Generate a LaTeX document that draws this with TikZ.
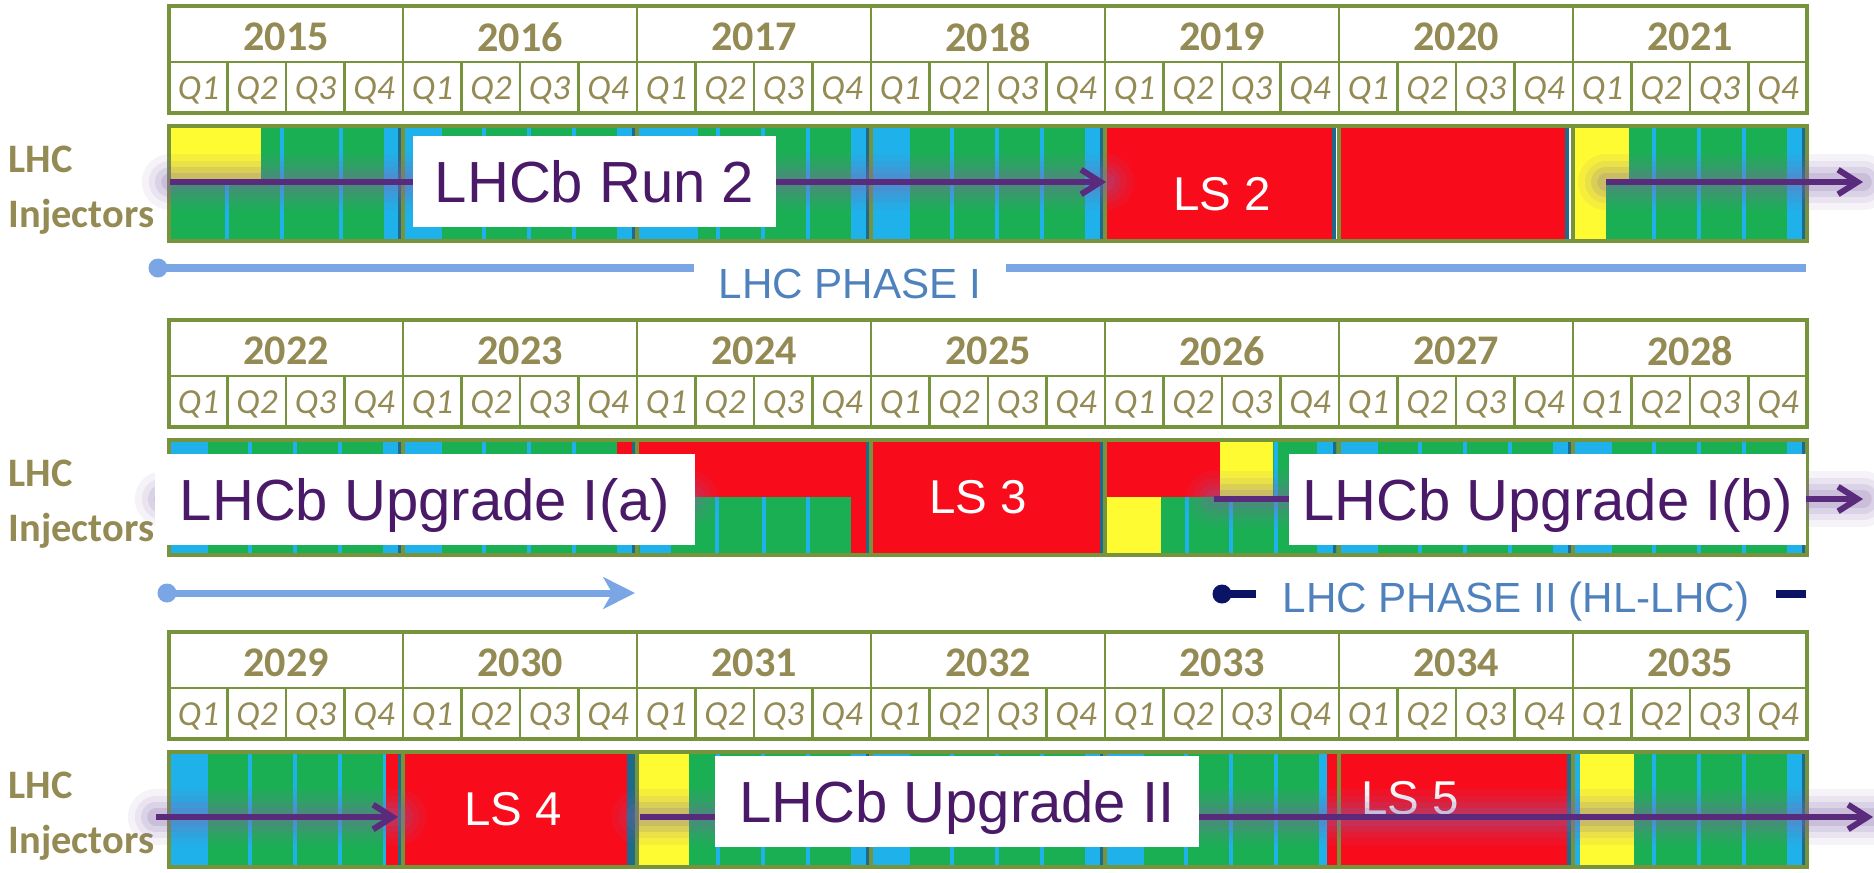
\documentclass[tikz,border=0pt]{standalone}
\usepackage{fontspec}
\setmainfont{Liberation Sans}
\newfontfamily\cellfont{Carlito}
\usetikzlibrary{arrows.meta}

\definecolor{rungreen}{HTML}{1BAF54}
\definecolor{stopblue}{HTML}{1FB1E9}
\definecolor{lsred}{HTML}{F80C1C}
\definecolor{beamyellow}{HTML}{FFFB33}
\definecolor{tealline}{HTML}{1D6A8A}
\definecolor{gridolive}{HTML}{77933C}
\definecolor{yeartext}{HTML}{948A54}
\definecolor{upgpurple}{HTML}{4A1A68}
\definecolor{arrpurple}{HTML}{5A2A7C}
\definecolor{glowpurple}{HTML}{8466AE}
\definecolor{phasetext}{HTML}{4F81BD}
\definecolor{phaseline}{HTML}{7BA6E6}
\definecolor{phasenavy}{HTML}{0B1464}

\tikzset{
  run/.style={fill=rungreen},
  techstop/.style={fill=stopblue},
  shutdown/.style={fill=lsred},
  commis/.style={fill=beamyellow},
  yearend/.style={fill=tealline},
  cellbox/.style={draw=gridolive, line width=0.8pt, fill=white},
  barframe/.style={draw=gridolive, line width=1pt},
  yearlbl/.style={text=yeartext, font=\cellfont\bfseries\fontsize{12}{14}\selectfont, inner sep=0},
  qlbl/.style={text=yeartext, font=\cellfont\itshape\fontsize{10}{12}\selectfont, inner sep=0},
  sidelbl/.style={text=yeartext, font=\cellfont\bfseries\fontsize{11.5}{14}\selectfont, anchor=base west, inner sep=0},
  lslbl/.style={text=white, font=\fontsize{13.5}{16}\selectfont, inner sep=0},
  upglbl/.style={fill=white, text=upgpurple, font=\fontsize{16.5}{20}\selectfont,
      text height=12pt, text depth=0pt, minimum height=0.91cm, inner sep=0},
  phasetxt/.style={fill=white, text=phasetext, font=\fontsize{12}{14}\selectfont,
      text height=8.6pt, text depth=0pt, minimum height=0.6cm, inner sep=0},
  phasedot/.style={circle, minimum size=0.19cm, inner sep=0},
  glow/.style={
      preaction={draw=glowpurple, draw opacity=.08, line width=16pt, line cap=round, arrows=-},
      preaction={draw=glowpurple, draw opacity=.1, line width=12pt, line cap=round, arrows=-},
      preaction={draw=glowpurple, draw opacity=.14, line width=8.5pt, line cap=round, arrows=-},
      preaction={draw=glowpurple, draw opacity=.18, line width=5pt, line cap=round, arrows=-}},
  runarrow/.style={glow, draw=arrpurple, line width=1.7pt, -{Straight Barb[length=5.5pt,width=7pt]}},
  phaseone/.style={draw=phaseline, line width=2pt},
  phasetwo/.style={draw=phasenavy, line width=2.2pt},
}

% one row of the calendar: #1 = top of the row, #2 = first year
\newcommand{\yeartable}[2]{%
  \foreach \i in {0,...,6} {
    \pgfmathtruncatemacro{\yr}{#2+\i}
    \draw[cellbox] ({169+234*\i},#1) rectangle ({169+234*(\i+1)},{#1+56});
    \node[yearlbl] (y\yr) at ({286+234*\i},{#1+31}) {\yr};
    \foreach \q in {1,...,4} {
      \draw[cellbox] ({169+234*\i+58.5*(\q-1)},{#1+56}) rectangle ({169+234*\i+58.5*\q},{#1+107});
      \node[qlbl] (q\yr-\q) at ({169+234*\i+58.5*\q-29},{#1+84}) {Q\q};
    }
  }
  \draw[gridolive, line width=1.3pt] (169,#1) rectangle (1807,{#1+107});
}

% a standard physics year: #1 = start, #2 = bar top, #3 = bar bottom
\newcommand{\runyear}[3]{%
  \fill[run] (#1,#2) rectangle ({#1+234},#3);
  \fill[techstop] ({#1+2},#2) rectangle ({#1+39},#3);
  \foreach \ts in {81,126,171}
    \fill[techstop] ({#1+\ts-2},#2) rectangle ({#1+\ts+2},#3);
  \fill[techstop] ({#1+214},#2) rectangle ({#1+229},#3);
  \fill[yearend] ({#1+229},#2) rectangle ({#1+232},#3);
}

\newcommand{\barlines}[2]{%
  \foreach \i in {1,...,6}
    \draw[barframe] ({169+234*\i},#1) -- ({169+234*\i},#2);
  \draw[barframe] (169,#1) rectangle (1807,#2);
}

\begin{document}
\begin{tikzpicture}[x=0.01cm, y=-0.01cm]
  \useasboundingbox (0,0) rectangle (1874,872);
  \fill[white] (0,0) rectangle (1874,872);

  % calendars
  \yeartable{6}{2015}
  \yeartable{320}{2022}
  \yeartable{632}{2029}

  % row 1: 2015 - 2021
  \fill[run] (169,126) rectangle (403,241);
  \fill[commis] (169,126) rectangle (261,181);
  \fill[techstop] (225,181) rectangle (229,241);
  \fill[techstop] (280,126) rectangle (284,241);
  \fill[techstop] (339,126) rectangle (343,241);
  \fill[techstop] (384,126) rectangle (398,241);
  \fill[yearend] (398,126) rectangle (401,241);
  \runyear{403}{126}{241}
  \runyear{637}{126}{241}
  \fill[techstop] (639,126) rectangle (698,241);
  \runyear{871}{126}{241}
  \fill[shutdown] (1105,126) rectangle (1332,241);
  \fill[yearend] (1332,126) rectangle (1336,241);
  \fill[shutdown] (1339,126) rectangle (1565,241);
  \fill[yearend] (1565,126) rectangle (1569,241);
  \runyear{1573}{126}{241}
  \fill[commis] (1573,126) rectangle (1629,181);
  \fill[commis] (1573,181) rectangle (1606,241);
  \fill[run] (1606,181) rectangle (1613,241);
  \barlines{126}{241}

  % row 2: 2022 - 2028
  \runyear{169}{440}{555}
  \runyear{403}{440}{555}
  \fill[shutdown] (617,440) rectangle (632,497);
  \fill[run] (637,440) rectangle (871,555);
  \fill[shutdown] (637,440) rectangle (866,497);
  \fill[techstop] (640,497) rectangle (671,555);
  \foreach \ts in {717,764,808}
    \fill[techstop] ({\ts-2},497) rectangle ({\ts+2},555);
  \fill[shutdown] (851,497) rectangle (866,555);
  \fill[yearend] (866,440) rectangle (869,555);
  \fill[shutdown] (871,440) rectangle (1100,555);
  \fill[yearend] (1100,440) rectangle (1103,555);
  \fill[run] (1105,440) rectangle (1339,555);
  \fill[shutdown] (1105,440) rectangle (1220,497);
  \fill[commis] (1220,440) rectangle (1273,497);
  \fill[commis] (1105,497) rectangle (1161,555);
  \foreach \ts in {1187,1231}
    \fill[techstop] ({\ts-2},497) rectangle ({\ts+2},555);
  \fill[techstop] (1274,440) rectangle (1278,555);
  \fill[techstop] (1317,440) rectangle (1333,555);
  \fill[yearend] (1333,440) rectangle (1336,555);
  \runyear{1339}{440}{555}
  \runyear{1573}{440}{555}
  \barlines{440}{555}

  % row 3: 2029 - 2035
  \runyear{169}{752}{867}
  \fill[shutdown] (386,752) rectangle (398,867);
  \fill[shutdown] (403,752) rectangle (627,867);
  \fill[yearend] (627,752) rectangle (635,867);
  \runyear{637}{752}{867}
  \fill[commis] (639,752) rectangle (689,867);
  \runyear{871}{752}{867}
  \runyear{1105}{752}{867}
  \fill[shutdown] (1327,752) rectangle (1339,867);
  \runyear{1573}{752}{867}
  \fill[shutdown] (1339,752) rectangle (1567,867);
  \fill[yearend] (1567,752) rectangle (1572,867);
  \fill[commis] (1580,752) rectangle (1634,867);
  \barlines{752}{867}

  % long shutdowns
  \node[lslbl] (ls2) at (1222,194) {LS 2};
  \node[lslbl] (ls3) at (978,497) {LS 3};
  \node[lslbl] (ls4) at (513,809) {LS 4};
  \node[lslbl] (ls5) at (1410,798) {LS 5};

  % side labels
  \node[sidelbl] (lhcA) at (8,172) {LHC};
  \node[sidelbl] (injA) at (8,227) {Injectors};
  \node[sidelbl] (lhcB) at (8,486) {LHC};
  \node[sidelbl] (injB) at (8,541) {Injectors};
  \node[sidelbl] (lhcC) at (8,798) {LHC};
  \node[sidelbl] (injC) at (8,853) {Injectors};

  % LHC phases
  \node[phasedot, fill=phaseline] (pIa) at (158,268) {};
  \coordinate (pIb) at (1806,268);
  \draw[phaseone] (pIa.center) -- (pIb);
  \node[phasetxt, minimum width=3.11cm] (phaseI) at (850,283) {LHC PHASE I};
  \node[phasedot, fill=phaseline] (pIc) at (167,593) {};
  \coordinate (pId) at (635,593);
  \draw[phaseone, -{Stealth[length=9pt,width=9pt,inset=2.5pt]}] (pIc.center) -- (pId);
  \node[phasedot, fill=phasenavy] (pIIa) at (1222,594) {};
  \coordinate (pIIb) at (1806,594);
  \draw[phasetwo] (pIIa.center) -- (pIIb);
  \node[phasetxt, minimum width=5.2cm] (phaseII) at (1516,597) {LHC PHASE II (HL-LHC)};

  % LHCb periods
  \coordinate (runtwoA) at (170,182);
  \coordinate (runtwoB) at (1106,182);
  \draw[runarrow] (runtwoA) -- (runtwoB);
  \coordinate (runthreeA) at (1606,182);
  \coordinate (runthreeB) at (1863,182);
  \draw[runarrow] (runthreeA) -- (runthreeB);
  \coordinate (upgIaA) at (163,499);
  \coordinate (upgIaB) at (690,499);
  \draw[runarrow, -] (upgIaA) -- (upgIaB);
  \coordinate (upgIbA) at (1214,499);
  \coordinate (upgIbB) at (1863,499);
  \draw[runarrow] (upgIbA) -- (upgIbB);
  \coordinate (upgIIaA) at (156,817);
  \coordinate (upgIIaB) at (398,817);
  \draw[runarrow] (upgIIaA) -- (upgIIaB);
  \coordinate (upgIIbA) at (640,817);
  \coordinate (upgIIbB) at (1873,817);
  \draw[runarrow] (upgIIbA) -- (upgIIbB);

  \node[upglbl, minimum width=3.63cm] (run2) at (594.5,181.5) {LHCb Run 2};
  \node[upglbl, minimum width=5.40cm] (upgIa) at (425,499.5) {LHCb Upgrade I(a)};
  \node[upglbl, minimum width=5.17cm] (upgIb) at (1547.5,499.5) {LHCb Upgrade I(b)};
  \node[upglbl, minimum width=4.84cm] (upgII) at (957,801.5) {LHCb Upgrade II};
\end{tikzpicture}
\end{document}
